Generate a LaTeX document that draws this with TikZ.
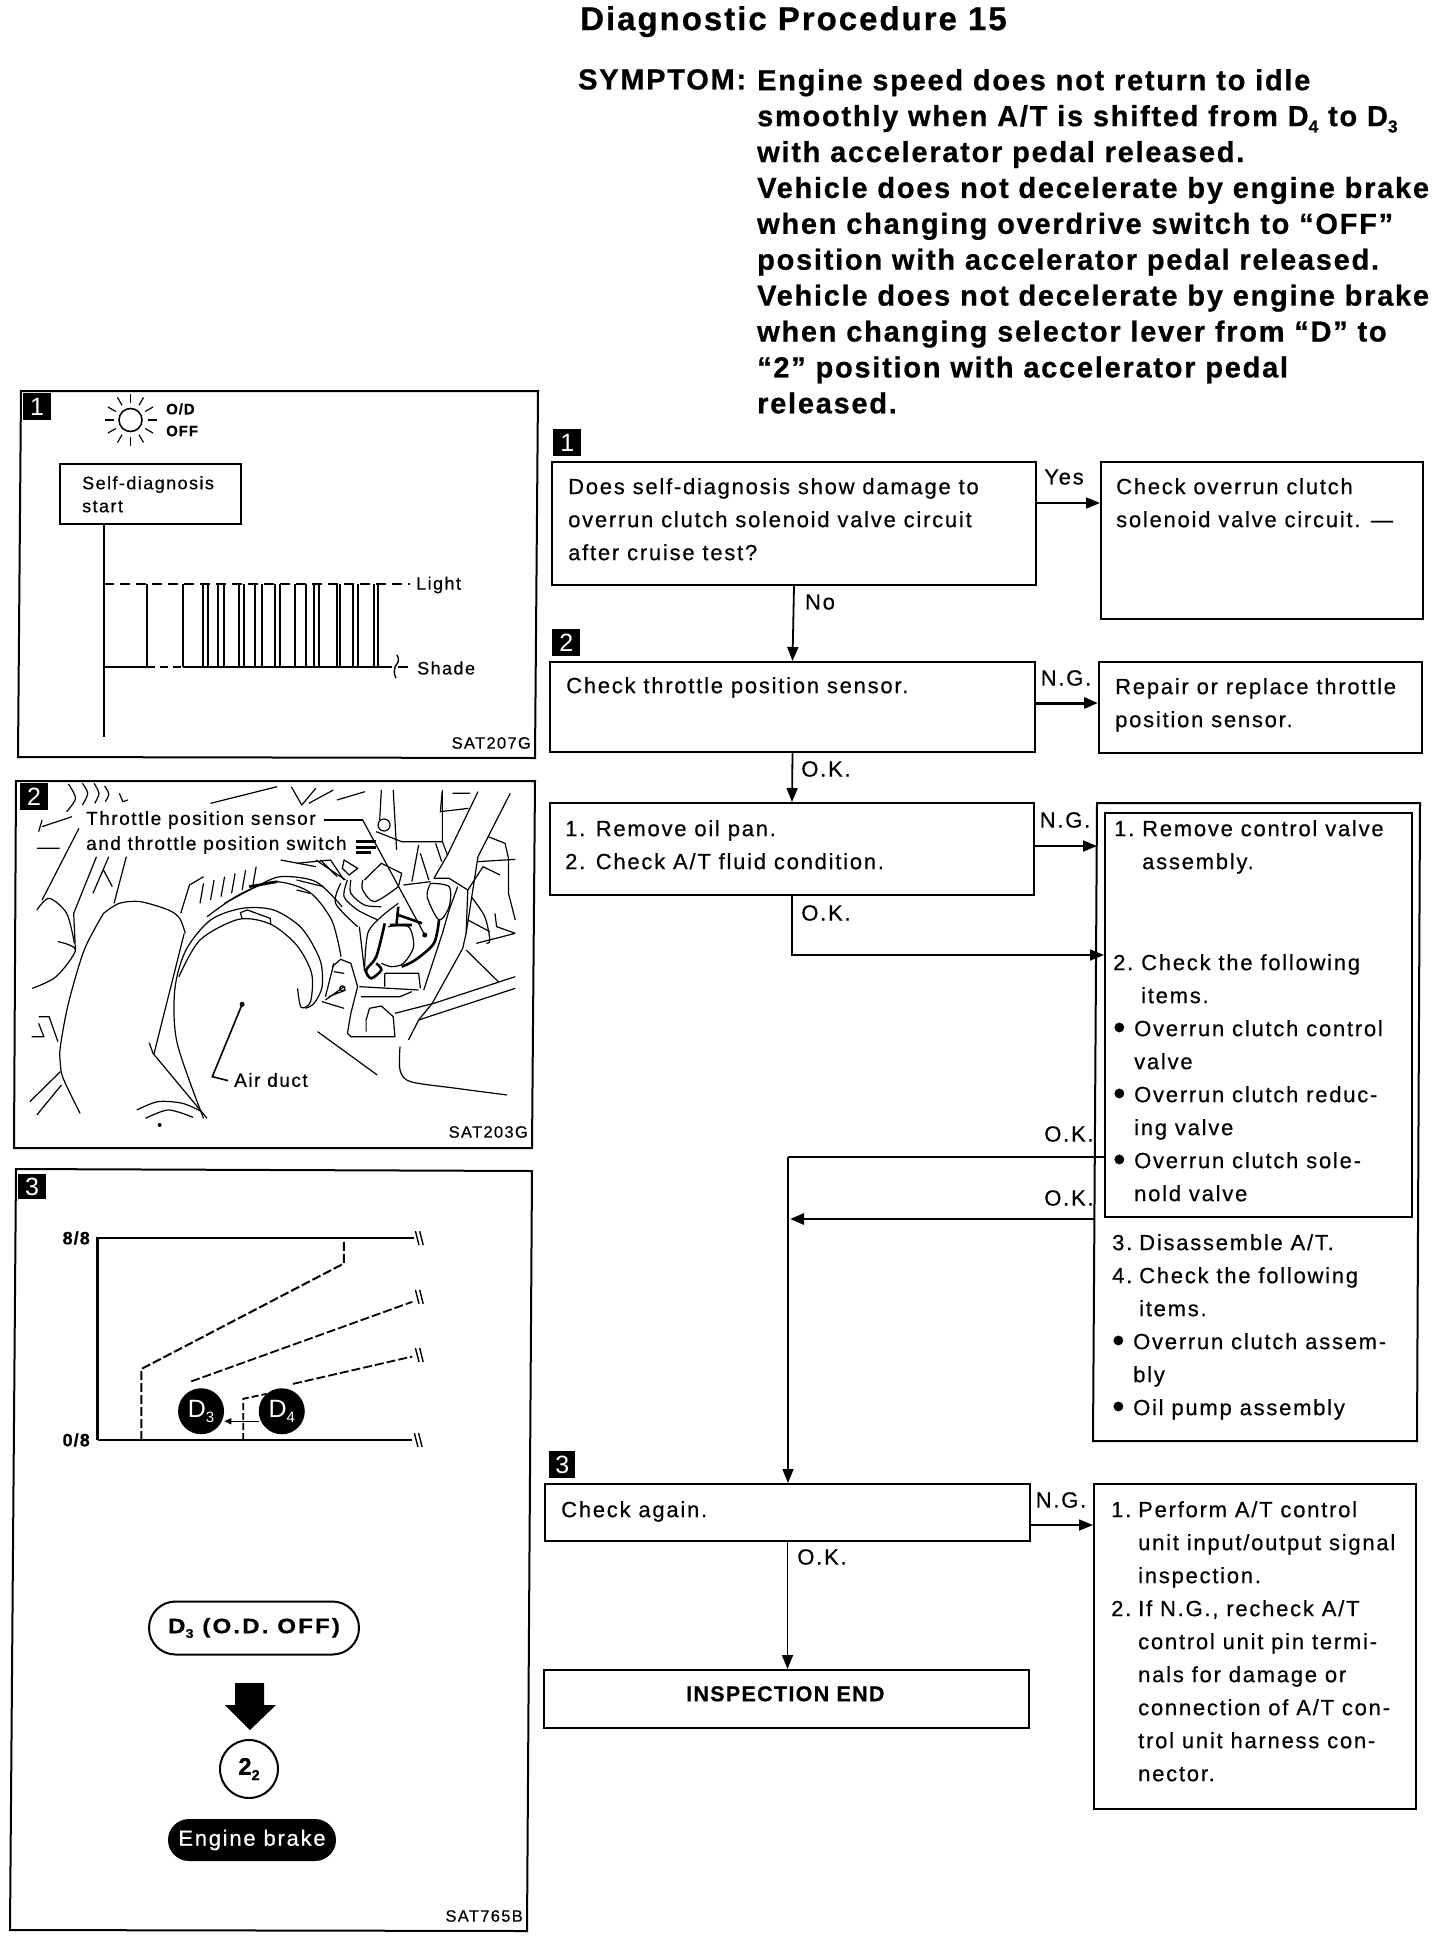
\documentclass[tikz,border=0pt]{standalone}
\usepackage{fontspec}
\setmainfont{Liberation Sans}
\newfontfamily\manualfont[LetterSpace=8,FakeBold=0.5]{Liberation Sans}
\newfontfamily\headfont[LetterSpace=6,FakeBold=0.7]{Liberation Sans Bold}
\newfontfamily\widefont[LetterSpace=10,FakeBold=0.5,FakeStretch=1.15]{Liberation Sans Bold}
\usetikzlibrary{positioning,arrows.meta,shapes.geometric,shapes.misc}
\newcommand{\lowidx}[1]{\raisebox{-0.22em}{\scalebox{0.6}{#1}}}
\newcommand{\blt}{\makebox[21pt][l]{\raisebox{-3pt}{\scalebox{1.6}{\textbullet}}}}

\begin{document}
\begin{tikzpicture}[
    x=1pt, y=-1pt,
    block/.style={rectangle, draw, line width=2pt, anchor=north west, inner sep=0pt},
    numtag/.style={rectangle, fill=black, text=white, anchor=north west, inner sep=0pt,
                   minimum width=28pt, minimum height=27pt, font=\fontsize{25}{25}\selectfont},
    txt/.style={anchor=north west, inner sep=0pt, align=left, yshift=1pt, font=\fontsize{22}{33}\selectfont\manualfont},
    lbl/.style={anchor=center, inner sep=0pt, font=\fontsize{22}{22}\selectfont\manualfont},
    head/.style={anchor=north west, inner sep=0pt, align=left, yshift=2pt, font=\fontsize{29}{35.9}\selectfont\headfont},
    small/.style={anchor=west, inner sep=0pt, font=\fontsize{18}{18}\selectfont\manualfont},
    code/.style={anchor=east, inner sep=0pt, font=\fontsize{16.5}{17}\selectfont\manualfont},
    arrow/.style={-{Triangle[length=14pt,width=11pt]}, line width=1.8pt},
    ink/.style={line width=1.2pt},
    thickink/.style={line width=2.6pt},
    panel/.style={line width=2pt},
]
\useasboundingbox (0,0) rectangle (1440,1940);

% heading
\node[head, font=\fontsize{33}{33}\selectfont\headfont] (title) at (580,8) {Diagnostic Procedure 15};
\node[head] (symptom) at (578,71) {SYMPTOM:};
\node[head] (symptomtext) at (757,71) {Engine speed does not return to idle\\
smoothly when A/T is shifted from D\lowidx{4} to D\lowidx{3}\\
with accelerator pedal released.\\
Vehicle does not decelerate by engine brake\\
when changing overdrive switch to “OFF”\\
position with accelerator pedal released.\\
Vehicle does not decelerate by engine brake\\
when changing selector lever from “D” to\\
“2” position with accelerator pedal\\
released.};

% flow chart boxes
\node[numtag] (tag1) at (553,429) {1};
\node[block, minimum width=484pt, minimum height=123pt] (selfdiag) at (551,461) {};
\node[block, minimum width=322pt, minimum height=157pt] (solcheck) at (1100,461) {};
\node[numtag] (tag2) at (552,629) {2};
\node[block, minimum width=485pt, minimum height=90pt] (sensor) at (549,661) {};
\node[block, minimum width=323pt, minimum height=91pt] (repair) at (1098,661) {};
\node[block, minimum width=484pt, minimum height=92pt] (oilpan) at (549,802) {};
\draw[panel] (1097,803) -- (1420,803) -- (1417,1441) -- (1093,1441) -- cycle;
\node[block, minimum width=307pt, minimum height=404pt] (valve) at (1104,812) {};
\node[numtag, minimum width=26pt] (tag3) at (549,1451) {3};
\node[block, minimum width=485pt, minimum height=57pt] (again) at (544,1483) {};
\node[block, minimum width=322pt, minimum height=325pt] (perform) at (1093,1483) {};
\node[block, minimum width=485pt, minimum height=58pt] (insend) at (543,1669) {};
\coordinate (disasm) at (1095,1219);
\coordinate (outer) at (1097,955);
\coordinate (upper) at (1104,1157);
\coordinate (turn) at (788,1157);
\coordinate (merge) at (790,1219);

% flow chart texts
\node[txt] (selfdiagtext) at (568,479) {Does self-diagnosis show damage to\\overrun clutch solenoid valve circuit\\after cruise test?};
\node[txt] (solchecktext) at (1116,479) {Check overrun clutch\\solenoid valve circuit. —};
\node[txt] (sensortext) at (566,678) {Check throttle position sensor.};
\node[txt] (repairtext) at (1115,679) {Repair or replace throttle\\position sensor.};
\node[txt] (oilpantext) at (565,821) {1. Remove oil pan.\\2. Check A/T fluid condition.};
\node[txt] (valvetext) at (1114,821) {\makebox[28pt][l]{1.}Remove control valve\\\hspace*{28pt}assembly.};
\node[txt] (itemtext) at (1113,955) {\makebox[28pt][l]{2.}Check the following\\\hspace*{28pt}items.\\
\blt Overrun clutch control\\\hspace*{21pt}valve\\
\blt Overrun clutch reduc-\\\hspace*{21pt}ing valve\\
\blt Overrun clutch sole-\\\hspace*{21pt}nold valve};
\node[txt] (disasmtext) at (1112,1235) {\makebox[27pt][l]{3.}Disassemble A/T.\\\makebox[27pt][l]{4.}Check the following\\\hspace*{27pt}items.\\
\blt Overrun clutch assem-\\\hspace*{21pt}bly\\
\blt Oil pump assembly};
\node[txt] (againtext) at (561,1502) {Check again.};
\node[txt, font=\fontsize{21.5}{22}\selectfont\headfont] (insendtext) at (686,1687) {INSPECTION END};
\node[txt] (performtext) at (1111,1502) {\makebox[27pt][l]{1.}Perform A/T control\\\hspace*{27pt}unit input/output signal\\\hspace*{27pt}inspection.\\
\makebox[27pt][l]{2.}If N.G., recheck A/T\\\hspace*{27pt}control unit pin termi-\\\hspace*{27pt}nals for damage or\\\hspace*{27pt}connection of A/T con-\\\hspace*{27pt}trol unit harness con-\\\hspace*{27pt}nector.};

% flow chart connectors
\draw[arrow] ([yshift=20.5pt]selfdiag.east) -- ([yshift=37.5pt]solcheck.west);
\draw[arrow] (selfdiag.south) -- (sensor.north);
\draw[arrow, line width=3pt] ([yshift=4pt]sensor.east) -- ([yshift=4.5pt]repair.west);
\draw[arrow] (sensor.south) -- (oilpan.north);
\draw[arrow] ([yshift=3pt]oilpan.east) -- ([yshift=3pt]oilpan.east -| outer);
\draw[arrow] (oilpan.south) |- (outer -| valve.west);
\draw[line width=2pt] (upper) -- (turn);
\draw[arrow] (turn) -- (turn |- again.north);
\draw[arrow, line width=2.8pt] (disasm) -- (merge);
\draw[arrow] ([yshift=-12.5pt]again.east) -- ([yshift=121.5pt]perform.west);
\draw[arrow] (again.south) -- (again.south |- insend.north);

% flow chart edge labels
\node[lbl] (lyes) at (1064,477) {Yes};
\node[lbl] (lno) at (820,602) {No};
\node[lbl] (lng1) at (1066,678) {N.G.};
\node[lbl] (lok1) at (826,769) {O.K.};
\node[lbl] (lng2) at (1065,820) {N.G.};
\node[lbl] (lok2) at (826,913) {O.K.};
\node[lbl] (lok3) at (1069,1134) {O.K.};
\node[lbl] (lok4) at (1069,1198) {O.K.};
\node[lbl] (lng3) at (1061,1500) {N.G.};
\node[lbl] (lok5) at (822,1557) {O.K.};

% panel 1, pilot lamp chart
\draw[panel] (21,391) -- (538,391) -- (535,758) -- (18,757) -- cycle;
\node[numtag] (ptag1) at (23,393) {1};
\node[circle, draw, line width=1.6pt, minimum size=23pt, inner sep=0pt] (sun) at (130.5,420) {};
\foreach \a in {0,30,...,330}
  \draw[line width=1.2pt] (sun)+(\a:17) -- +(\a:26);
\node[small, font=\fontsize{15}{15}\selectfont\headfont] (lod) at (166,409) {O/D};
\node[small, font=\fontsize{15}{15}\selectfont\headfont] (loff) at (166,431) {OFF};
\node[block, minimum width=181pt, minimum height=60pt] (startbox) at (59,463) {};
\node[txt, font=\fontsize{18}{23}\selectfont\manualfont] (starttext) at (82,477) {Self-diagnosis\\start};
\coordinate (startfoot) at (104,737);
\draw[line width=1.2pt] (startbox.south -| startfoot) -- (startfoot);
\draw[line width=1.2pt, dash pattern=on 10pt off 6pt] (104,584) -- (410,584);
\draw[line width=1.8pt] (104,667) -- (147,667);
\draw[line width=1.2pt, dash pattern=on 8pt off 5pt] (147,667) -- (183,667);
\draw[line width=2pt] (183,667) -- (392,667);
\foreach \r/\f in {147/183,203/208,218/224,239/244,255/262,275/280,295/306,314/319,337/340,353/358,374/378}
  \draw[line width=1.8pt] (\r,667) -- (\r,584) (\f,584) -- (\f,667);
\draw[line width=1.4pt] (397,655) .. controls (401,662) and (396,664) .. (395,667) .. controls (394,672) and (394,674) .. (396,678);
\draw[line width=1.4pt] (398,667) -- (408,667);
\node[small] (llight) at (416,585) {Light};
\node[small] (lshade) at (417,668) {Shade};
\node[code] (code1) at (531,743) {SAT207G};

% panel 2, engine room sketch
\draw[panel] (16,781) -- (535,781) -- (532,1148) -- (14,1148) -- cycle;
\node[numtag] (ptag2) at (20,783) {2};
\begin{scope}[shift={(0,770)}, x=0.3509pt, y=-0.3333pt, ink]
  % duct arcs
  \draw plot[smooth] coordinates {(580,1045) (505,820) (498,660) (530,540) (600,450) (690,415) (780,420) (860,475) (912,570) (918,650) (895,700) (870,715)};
  \draw plot[smooth] coordinates {(510,620) (570,510) (680,448) (770,462) (845,525) (888,610) (885,695) (858,712) (848,655)};
  \draw plot[smooth] coordinates {(590,440) (680,375) (780,335) (880,365) (945,450) (972,560)};
  \draw plot[smooth] coordinates {(640,400) (730,350) (800,320) (900,335) (975,410)};
  \draw[thickink] (710,350) -- (790,335);
  \draw (690,445) -- (685,428) -- (705,420) -- (770,445) -- (772,465);
  \draw (440,855) -- (590,1045) (425,818) -- (438,855);
  \draw plot[smooth] coordinates {(390,1020) (450,995) (520,1000) (575,1025)};
  \draw plot[smooth] coordinates {(415,1045) (480,1020) (550,1042)};
  \fill (455,1065) circle (2pt);
  % scraps behind the duct
  \foreach \u in {570,600,630,660,690,720}
    \draw (\u,{400-(\u-570)/3}) -- ++(10,-60);
  \draw (580,320) -- (540,345) -- (515,430);
  \draw (800,270) -- (900,290) (900,270) -- (985,330);
  % left cylinder
  \draw plot[smooth] coordinates {(295,430) (340,400) (400,395) (480,420) (512,445) (528,490)};
  \draw (525,490) -- (438,855);
  \draw plot[smooth] coordinates {(295,430) (240,540) (195,700) (172,830) (172,880) (180,925) (228,1030)};
  \draw (175,945) -- (105,1035) (172,905) -- (85,995);
  \draw (225,175) -- (120,390) (275,260) -- (210,430) -- (215,545);
  \draw (360,260) -- (325,400) (310,260) -- (265,370) (295,300) -- (320,350);
  \draw plot[smooth] coordinates {(105,420) (140,385) (190,430) (212,520)};
  \draw plot[smooth] coordinates {(165,515) (215,540) (160,620) (92,655)};
  \draw (110,740) -- (140,740) -- (165,815) (110,760) -- (125,800) -- (90,800);
  % top left waves
  \draw plot[smooth] coordinates {(195,42) (215,85) (190,125)};
  \draw plot[smooth] coordinates {(235,40) (250,70) (235,105)};
  \draw plot[smooth] coordinates {(268,40) (282,70) (270,100)};
  \draw plot[smooth] coordinates {(298,48) (310,72) (300,95)};
  \draw (340,70) -- (350,95) -- (365,90) (120,150) -- (110,185) (120,170) -- (205,140) (105,235) -- (170,235);
  % top scraps
  \draw (600,100) -- (790,50) (830,50) -- (860,105) -- (900,55) (880,100) -- (950,60) (960,90) -- (1040,65);
  \draw (1260,65) -- (1255,125) -- (1335,115) (1290,70) -- (1340,70);
  % lower body
  \draw (905,785) -- (1075,915);
  \draw plot[smooth] coordinates {(1140,830) (1140,900) (1170,935) (1300,955) (1445,975)};
  % air duct leader
  \draw[line width=1.6pt] (690,703) -- (605,920) -- (650,932);
  \fill (690,703) circle (2.5pt);
\end{scope}
\begin{scope}[shift={(300,800)}, x=0.339pt, y=-0.3333pt, ink]
  % throttle body
  \draw (240,-30) -- (235,60) (275,-30) -- (285,150) (420,-30) -- (420,125) -- (435,165);
  \node[circle, draw, line width=1.2pt, minimum size=12pt, inner sep=0pt] (bolt) at (248,75) {};
  \draw (225,95) -- (300,125) -- (420,125) (350,135) -- (330,245) (355,160) -- (380,240) (400,130) -- (418,185);
  \draw (620,-20) -- (525,170) -- (490,400) (525,-25) -- (435,165) -- (395,235);
  \draw (395,235) -- (440,235) -- (495,270) -- (490,400) -- (480,445) -- (390,610) -- (350,660) -- (320,720);
  \draw plot[smooth] coordinates {(385,250) (375,290) (410,360) (440,320) (440,260) (385,250)};
  \draw (465,260) -- (440,330) -- (420,400) -- (365,570);
  \draw (495,270) -- (540,200) -- (590,225) (555,110) -- (605,130) -- (615,175) -- (615,280) -- (635,360) (525,185) -- (635,178);
  \draw plot[smooth] coordinates {(505,290) (545,350) (560,420) (550,430)};
  \draw (495,360) -- (560,395) (575,340) -- (580,380) -- (635,400) (520,430) -- (635,400);
  \draw (490,450) -- (585,545) (635,530) -- (395,610) (635,565) -- (350,660);
  \draw[thickink] plot[smooth] coordinates {(410,360) (395,430) (340,480) (300,500)};
  \draw[thickink] plot[smooth] coordinates {(250,370) (225,470) (195,510) (210,535) (240,510) (225,490)};
  \draw plot[smooth] coordinates {(260,380) (320,380) (335,440) (305,490) (270,500) (240,490)};
  \draw[thickink] (290,320) -- (285,370) (290,345) -- (360,370) (265,375) -- (330,375);
  \draw plot[smooth] coordinates {(120,250) (105,310) (170,380)};
  \draw plot[smooth] coordinates {(140,240) (130,290) (170,330) (230,360)};
  \draw plot[smooth] coordinates {(150,240) (150,280) (190,315) (240,320)};
  \draw plot[smooth] coordinates {(185,240) (185,270) (220,305) (290,260)};
  \draw (190,240) -- (240,190) -- (300,220) -- (290,260) (305,255) -- (385,245);
  \draw plot[smooth] coordinates {(190,515) (200,400) (240,350) (290,310)};
  \draw (175,380) -- (190,510);
  \draw (175,560) -- (350,570) (180,590) -- (295,590) -- (330,575) (250,520) -- (250,560) (250,520) -- (350,520) -- (355,565);
  \draw (95,500) -- (120,478) -- (150,490) -- (170,560) -- (150,640) -- (140,700) -- (150,710) -- (280,710) -- (275,650) -- (240,618) -- (205,625) -- (195,660) -- (195,695);
  \draw (280,640) -- (395,610) (100,490) -- (75,590) (75,600) -- (130,560) (85,590) -- (135,570) (65,605) -- (130,625) (130,520) -- (100,515);
  \draw (125,565) circle (2.5pt);
  \draw (-10,190) -- (90,180) -- (130,240) (60,180) -- (110,230) (130,180) -- (170,205) -- (145,225) -- (125,205) -- cycle;
  \draw (-10,240) -- (70,260) (-10,270) -- (30,280);
  % position switch leader
  \draw[thickink] (70,60) -- (185,60);
  \draw (185,60) -- (368,405);
  \fill (368,405) circle (2.5pt);
  \draw[thickink] (165,125) -- (225,125) (165,142) -- (225,142) (165,158) -- (210,158);
\end{scope}
\node[small, font=\fontsize{19}{19}\selectfont\manualfont] (lsensor) at (86,820) {Throttle position sensor};
\node[small, font=\fontsize{19}{19}\selectfont\manualfont] (lswitch) at (86,845) {and throttle position switch};
\node[small, font=\fontsize{19}{19}\selectfont\manualfont] (lduct) at (234,1080) {Air duct};
\node[code] (code2) at (528,1132) {SAT203G};

% panel 3, throttle and engine brake chart
\draw[panel] (16,1169) -- (532,1171) -- (527,1931) -- (10,1930) -- cycle;
\node[numtag, minimum height=25pt] (ptag3) at (18,1174) {3};
\node[small, anchor=east, font=\fontsize{18}{18}\selectfont\headfont] (lfull) at (90,1238) {8/8};
\node[small, anchor=east, font=\fontsize{18}{18}\selectfont\headfont] (lzero) at (90,1440) {0/8};
\begin{scope}[shift={(0,1160)}, x=0.3509pt, y=-0.4975pt]
  \draw[line width=2.4pt] (278,563) -- (278,157) -- (1035,157);
  \draw[line width=1.4pt] (1035,157) -- (1180,157);
  \draw[line width=2.6pt] (278,563) -- (800,563);
  \draw[line width=1.4pt] (800,563) -- (1175,563);
  \foreach \bx/\by in {1190/157,1190/275,1190/392,1187/563} {
    \draw[line width=1.4pt] (\bx-6,\by-14) -- (\bx+4,\by+14) (\bx+6,\by-14) -- (\bx+16,\by+14);
  }
  \draw[line width=2pt, dash pattern=on 9pt off 3pt] (403,563) -- (403,420) -- (980,208) -- (980,157);
  \draw[line width=1.8pt, dash pattern=on 9pt off 3pt] (545,445) -- (1175,285);
  \draw[line width=1.8pt, dash pattern=on 9pt off 3pt] (835,450) -- (1175,395);
  \draw[line width=1.8pt, dash pattern=on 7pt off 3pt] (693,563) -- (693,480) -- (760,470);
  \node[circle, fill=black, text=white, minimum size=46pt, inner sep=0pt, font=\fontsize{25}{25}\selectfont] (dthree) at (573,505) {D\lowidx{3}};
  \node[circle, fill=black, text=white, minimum size=46pt, inner sep=0pt, font=\fontsize{25}{25}\selectfont] (dfour) at (803,505) {D\lowidx{4}};
  \draw[-{Triangle[length=7pt,width=6pt]}, line width=1.4pt] ([yshift=-10pt]dfour.west) -- ([yshift=-10pt]dthree.east);
\end{scope}
\node[rounded rectangle, draw, line width=2pt, minimum width=210pt, minimum height=53pt, inner sep=0pt, font=\fontsize{21}{21}\selectfont\widefont] (gear) at (254,1628) {D\lowidx{3} (O.D. OFF)};
\fill (235,1683) -- (264,1683) -- (264,1705) -- (276,1705) -- (250,1730) -- (225,1705) -- (235,1705) -- cycle;
\node[circle, draw, line width=2pt, minimum size=58pt, inner sep=0pt, font=\fontsize{24}{24}\selectfont\headfont] (second) at (249,1769) {2\lowidx{2}};
\node[rounded rectangle, fill=black, text=white, minimum width=168pt, minimum height=42pt, inner sep=0pt, font=\fontsize{22}{22}\selectfont\manualfont] (brake) at (252,1840) {Engine brake};
\node[code] (code3) at (523,1916) {SAT765B};
\end{tikzpicture}
\end{document}
